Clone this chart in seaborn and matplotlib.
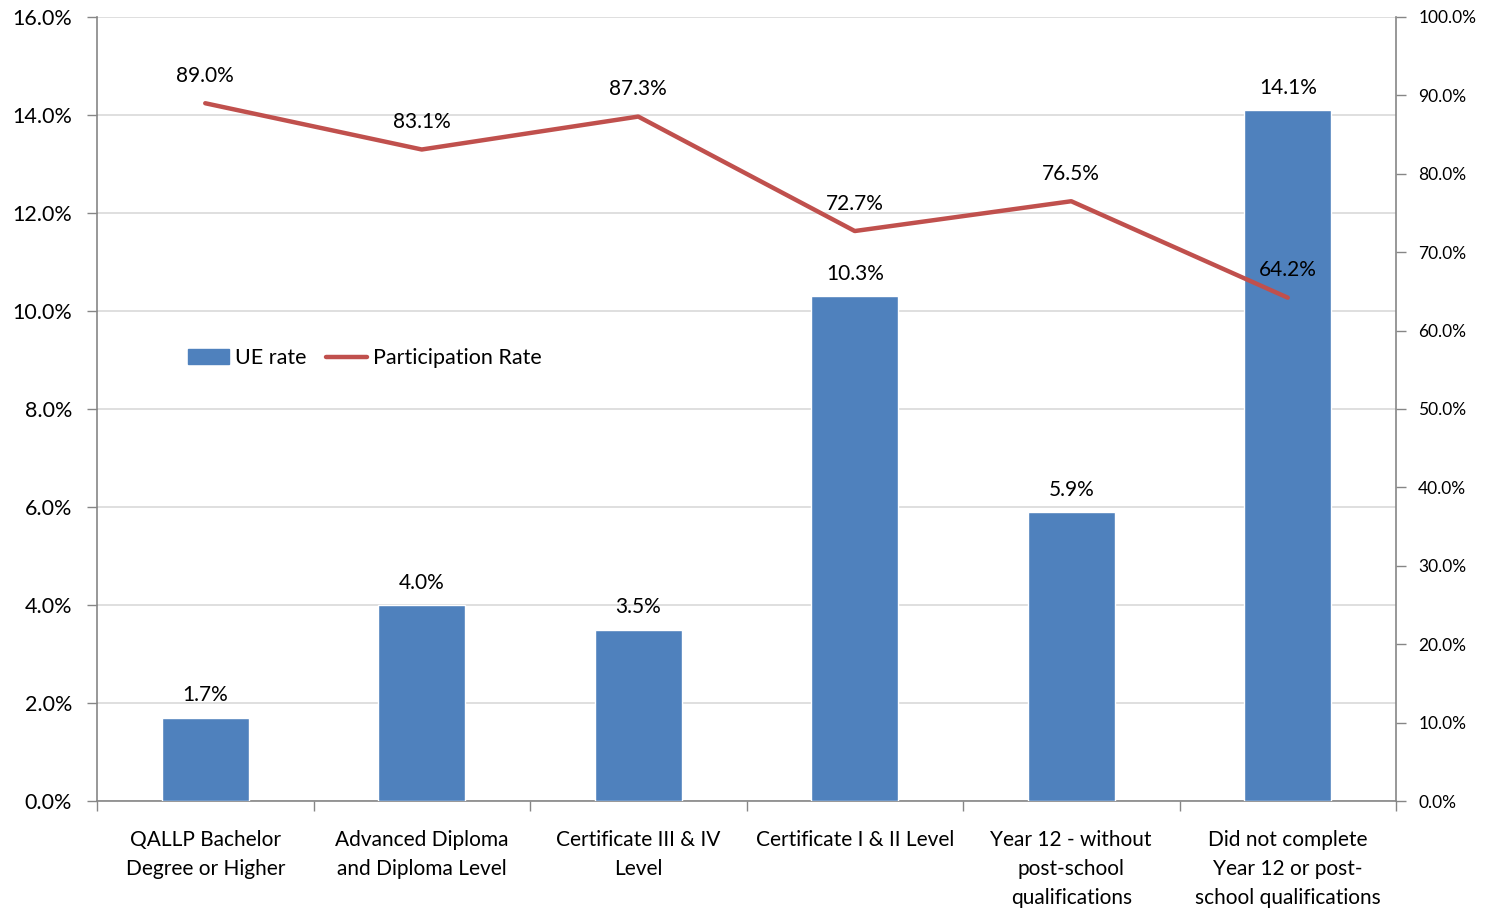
import numpy as np
import matplotlib
matplotlib.use("Agg")
import matplotlib.pyplot as plt
import seaborn as sns
import pandas as pd
from matplotlib.ticker import FuncFormatter, FixedLocator
from matplotlib.patches import Patch
from matplotlib.lines import Line2D

categories = ["QALLP Bachelor\nDegree or Higher", "Advanced Diploma\nand Diploma Level",
              "Certificate III & IV\nLevel", "Certificate I & II Level",
              "Year 12 - without\npost-school\nqualifications",
              "Did not complete\nYear 12 or post-\nschool qualifications"]
ue_rate = [1.7, 4.0, 3.5, 10.3, 5.9, 14.1]
participation = [89.0, 83.1, 87.3, 72.7, 76.5, 64.2]

blue = "#4F81BD"
red = "#C0504D"
grey = "#868686"
txt = "#000000"

sns.set_style("white")
plt.rcParams["font.family"] = ["Lato", "DejaVu Sans"]

df = pd.DataFrame({"cat": categories, "ue": ue_rate, "part": participation})

fig = plt.figure(figsize=(14.85, 9.11), dpi=100)
ax = fig.add_axes([97 / 1485, 1 - 801 / 911, 1299 / 1485, 784 / 911])

sns.barplot(data=df, x="cat", y="ue", color=blue, width=0.4, saturation=1, ax=ax, zorder=3)
ax.set_ylim(0, 16)
ax.set_xlim(-0.5, 5.5)
ax.set_yticks(np.arange(0, 16.1, 2))
ax.yaxis.set_major_formatter(FuncFormatter(lambda v, p: f"{v:.1f}%"))
ax.grid(axis="y", color="#D9D9D9", linewidth=1.2, zorder=0)
ax.set_axisbelow(True)
ax.set_xlabel("")
ax.set_ylabel("")
ax.tick_params(axis="y", labelsize=15.5, length=7, width=1, color=grey, left=True, pad=11,
               labelcolor=txt)
ax.tick_params(axis="x", labelsize=15, length=0, pad=21, labelcolor=txt)
for lab in ax.get_xticklabels():
    lab.set_linespacing(1.55)
ax.xaxis.set_minor_locator(FixedLocator(np.arange(-0.5, 6, 1)))
ax.tick_params(axis="x", which="minor", length=7, width=1, color=grey, bottom=True)
for s in ["top", "right"]:
    ax.spines[s].set_visible(False)
for s in ["left", "bottom"]:
    ax.spines[s].set_color(grey)
    ax.spines[s].set_linewidth(1.2)

for i, v in enumerate(ue_rate):
    ax.text(i, v + 0.25, f"{v:.1f}%", ha="center", va="bottom", fontsize=15, color=txt)

ax2 = ax.twinx()
sns.lineplot(x=np.arange(len(participation)), y=participation, color=red, linewidth=3.2, ax=ax2)
ax2.set_ylim(0, 100)
ax2.set_yticks(np.arange(0, 100.1, 10))
ax2.yaxis.set_major_formatter(FuncFormatter(lambda v, p: f"{v:.1f}%"))
ax2.tick_params(axis="y", labelsize=12.5, length=7, width=1, color=grey, right=True, pad=9,
                labelcolor=txt)
for s in ["top", "left", "bottom"]:
    ax2.spines[s].set_visible(False)
ax2.spines["right"].set_color(grey)
ax2.spines["right"].set_linewidth(1.2)
ax2.set_xlim(-0.5, 5.5)

for i, v in enumerate(participation):
    ax2.text(i, v + 2.2, f"{v:.1f}%", ha="center", va="bottom", fontsize=15, color=txt)

handles = [Patch(facecolor=blue, edgecolor=blue),
           Line2D([0], [0], color=red, linewidth=3.2)]
leg = ax2.legend(handles, ["UE rate", "Participation Rate"], loc="center left",
                 bbox_to_anchor=(0.055, 0.565), ncol=2, frameon=False, fontsize=15.5,
                 handlelength=1.9, handletextpad=0.3, columnspacing=0.9)
for t in leg.get_texts():
    t.set_color(txt)

fig.savefig("out.png", dpi=100)
